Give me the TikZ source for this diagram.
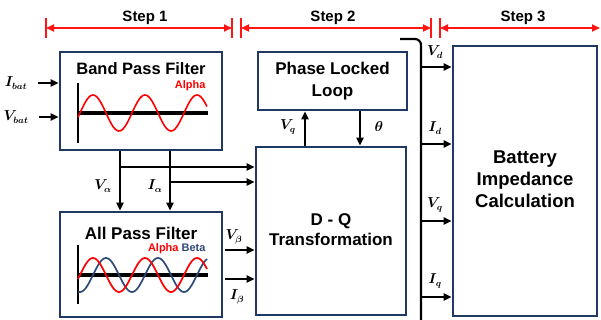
\documentclass[tikz,border=0pt]{standalone}
\usepackage{amsmath,bm}
\usepackage{fontspec}
\setmainfont{Liberation Sans}
\usetikzlibrary{arrows.meta,positioning}
\definecolor{navy}{HTML}{1F3864}
\definecolor{stepred}{HTML}{FF1414}
\definecolor{betablue}{HTML}{2F4A7A}
\begin{document}
\begin{tikzpicture}[x=1pt,y=-1pt,
  block/.style={draw=navy,line width=2.8pt,fill=white},
  sig/.style={line width=2.2pt,-{Triangle[length=8pt,width=7pt]}},
  steparr/.style={stepred,line width=1.8pt,{Triangle[length=8pt,width=7pt]}-{Triangle[length=8pt,width=7pt]}},
  steptick/.style={stepred,line width=1.6pt},
  steplbl/.style={font=\bfseries\fontsize{15}{17}\selectfont},
  title/.style={font=\bfseries\fontsize{17}{19}\selectfont,align=center},
  lbl/.style={font=\fontsize{13.5}{15}\selectfont}]
  \useasboundingbox (0,0) rectangle (601,320);

  % steps
  \coordinate (s1l) at (46,28);  \coordinate (s1r) at (232,28);
  \coordinate (s2l) at (241,28); \coordinate (s2r) at (431,28);
  \coordinate (s3l) at (440,28); \coordinate (s3r) at (600,28);
  \foreach \c in {s1l,s1r,s2l,s2r,s3l}
    \draw[steptick] ([yshift=-10pt]\c) -- ([yshift=10pt]\c);
  \draw[steparr] (s1l) -- (s1r);
  \draw[steparr] (s2l) -- (s2r);
  \draw[steparr] (s3l) -- (s3r);
  \node[steplbl] (st1) at (145,18) {Step 1};
  \node[steplbl] (st2) at (333,18) {Step 2};
  \node[steplbl] (st3) at (523,18) {Step 3};

  % blocks
  \node[block,minimum width=162pt,minimum height=98pt] (bpf) at (141,101) {};
  \node[block,minimum width=162pt,minimum height=105pt] (apf) at (141,264.5) {};
  \node[block,minimum width=149pt,minimum height=58pt] (pll) at (332.5,81)
    {\bfseries\fontsize{17}{22}\selectfont\begin{tabular}{@{}c@{}}Phase Locked\\Loop\end{tabular}};
  \node[block,minimum width=150pt,minimum height=168pt] (dq) at (331,231)
    {\bfseries\fontsize{17}{20}\selectfont\begin{tabular}{@{}c@{}}D - Q\\Transformation\end{tabular}};
  \node[block,minimum width=144pt,minimum height=270pt] (bic) at (525,181)
    {\bfseries\fontsize{18.5}{22}\selectfont\begin{tabular}{@{}c@{}}Battery\\Impedance\\Calculation\end{tabular}};

  % band pass filter
  \node[title,font=\bfseries\fontsize{16.5}{19}\selectfont] (bpft) at (141,69) {Band Pass Filter};
  \node[anchor=east,text=red,font=\bfseries\fontsize{11}{13}\selectfont] (bpfa) at (209,86) {Alpha};
  \draw[line width=2pt] (78,83) -- (78,143);
  \draw[line width=3.5pt] (78,113) -- (208,113);
  \draw[red,line width=1.6pt] plot[domain=78:207,samples=90] (\x,{113-18*sin((\x-80)*6.9231)});

  % all pass filter
  \node[title] (apft) at (141,233) {All Pass Filter};
  \node[anchor=east,font=\bfseries\fontsize{11}{13}\selectfont] (apfa) at (209,249)
    {\textcolor{red}{Alpha} \textcolor{betablue}{Beta}};
  \draw[line width=2pt] (78,245) -- (78,304);
  \draw[line width=3.5pt] (78,275) -- (208,275);
  \draw[betablue,line width=1.7pt] plot[domain=78:207,samples=90] (\x,{275-17*sin((\x-93)*6.9231)});
  \draw[red,line width=1.7pt] plot[domain=78:207,samples=90] (\x,{275-17*sin((\x-80)*6.9231)});

  % inputs
  \node[lbl] (ibat) at (16,83) {$\bm{I_{bat}}$};
  \node[lbl] (vbat) at (16,117) {$\bm{V_{bat}}$};
  \draw[sig] ([xshift=7pt]ibat.east) -- (ibat -| bpf.west);
  \draw[sig] ([xshift=7pt]vbat.east) -- (vbat -| bpf.west);

  % alpha signals
  \coordinate (va) at (120,167);
  \coordinate (ia) at (170,182);
  \draw[sig] (bpf.south -| va) -- (apf.north -| va);
  \draw[sig] (bpf.south -| ia) -- (apf.north -| ia);
  \draw[sig] (va) -- (va -| dq.west);
  \draw[sig] (ia) -- (ia -| dq.west);
  \node[lbl] (val) at (103,186) {$\bm{V_{\alpha}}$};
  \node[lbl] (ial) at (155,186) {$\bm{I_{\alpha}}$};

  % beta signals
  \coordinate (vb) at (225,250);
  \coordinate (ib) at (225,279);
  \draw[sig] (vb) -- (vb -| dq.west);
  \draw[sig] (ib) -- (ib -| dq.west);
  \node[lbl] (vbl) at (234,237) {$\bm{V_{\beta}}$};
  \node[lbl] (ibl) at (237,297) {$\bm{I_{\beta}}$};

  % pll loop
  \coordinate (vqu) at (305,130);
  \coordinate (th) at (360,130);
  \draw[sig] (dq.north -| vqu) -- (pll.south -| vqu);
  \draw[sig] (pll.south -| th) -- (dq.north -| th);
  \node[lbl] (vql) at (288,127) {$\bm{V_q}$};
  \node[lbl] (thl) at (379,127) {$\bm{\theta}$};

  % output bus
  \coordinate (bustop) at (400,39);
  \coordinate (busbot) at (421,322);
  \draw[line width=2.2pt,rounded corners=6pt] (bustop) -| (busbot);
  \foreach \y/\n in {67/vd,144/id,221/vq,297/iq}
    \coordinate (\n) at (421,\y);
  \foreach \n in {vd,id,vq,iq}
    \draw[sig] (\n) -- (\n -| bic.west);
  \node[lbl] (vdl) at (435,52) {$\bm{V_d}$};
  \node[lbl] (idl) at (435,128) {$\bm{I_d}$};
  \node[lbl] (vql2) at (435,205) {$\bm{V_q}$};
  \node[lbl] (iql) at (435,281) {$\bm{I_q}$};
\end{tikzpicture}
\end{document}
